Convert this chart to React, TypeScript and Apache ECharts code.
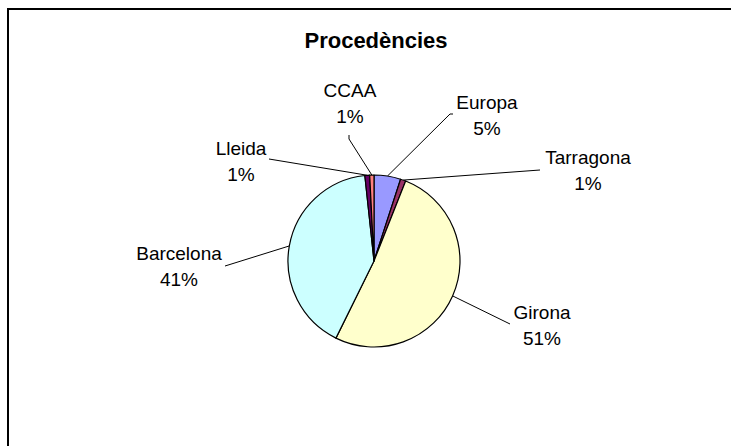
import { useEffect, useRef } from 'react';
import * as echarts from 'echarts';

const titleText = 'Procedències';
const categories = ['Europa', 'Tarragona', 'Girona', 'Barcelona', 'Lleida', 'CCAA'];
const values = [5.0, 1.0, 51.3, 41.0, 0.9, 0.8];
const sliceColors = ['#9999FF', '#993366', '#FFFFCC', '#CCFFFF', '#660066', '#FF8080'];

// label layout (page pixels): centre of each two-line label and the elbow points of its leader line
const labelCenters = [[487, 115], [588, 170], [542, 325], [179, 266], [241, 161], [350, 103]];
const labelElbows = [
  [[453, 114], [450, 114]],
  [[540, 170]],
  [[510, 324]],
  [[225, 266]],
  [[269, 159]],
  [[349, 135], [349, 139]],
];

const PIE_CX = 374;
const PIE_CY = 261;
const PIE_R = 86;
const FONT = '"Liberation Sans", Arial, sans-serif';

export default function App() {
  const ref = useRef<HTMLDivElement>(null);

  useEffect(() => {
    if (!ref.current) return;
    const chart = echarts.init(ref.current, null, { renderer: 'svg' });
    const total = values.reduce((a, b) => a + b, 0);
    const mids: number[] = [];
    let cum = 0;
    values.forEach((v) => {
      mids.push(((cum + v / 2) / total) * Math.PI * 2);
      cum += v;
    });

    chart.setOption({
      animation: false,
      backgroundColor: '#ffffff',
      graphic: [
        {
          type: 'rect',
          shape: { x: 8, y: 9, width: 760, height: 470 },
          style: { fill: 'none', stroke: '#000', lineWidth: 2 },
          silent: true,
        },
        {
          type: 'text',
          x: 376,
          y: 40,
          style: {
            text: titleText,
            align: 'center',
            verticalAlign: 'middle',
            fill: '#000',
            font: `bold 22px ${FONT}`,
          },
        },
      ],
      series: [
        {
          type: 'pie',
          center: [PIE_CX, PIE_CY],
          radius: PIE_R,
          startAngle: 90,
          clockwise: true,
          avoidLabelOverlap: false,
          itemStyle: { borderColor: '#000', borderWidth: 1.2 },
          emphasis: { disabled: true },
          label: {
            show: true,
            position: 'outside',
            color: '#000',
            fontFamily: FONT,
            fontSize: 19,
            lineHeight: 26,
            align: 'center',
            formatter: (p: any) => `${p.name}\n${Math.round(p.percent)}%`,
          },
          labelLine: {
            show: true,
            length: 10,
            length2: 10,
            lineStyle: { color: '#000', width: 1 },
          },
          labelLayout: (params: any) => {
            const i = params.dataIndex;
            const a = mids[i];
            const edge = [PIE_CX + PIE_R * Math.sin(a), PIE_CY - PIE_R * Math.cos(a)];
            return {
              x: labelCenters[i][0],
              y: labelCenters[i][1],
              align: 'center',
              verticalAlign: 'middle',
              labelLinePoints: [...labelElbows[i], edge],
            };
          },
          data: categories.map((name, i) => ({
            name,
            value: values[i],
            itemStyle: { color: sliceColors[i] },
          })),
        },
      ],
    });
    return () => chart.dispose();
  }, []);

  return (
    <div
      ref={ref}
      style={{ position: 'fixed', left: 0, top: 0, width: 731, height: 446, background: '#fff' }}
    />
  );
}
